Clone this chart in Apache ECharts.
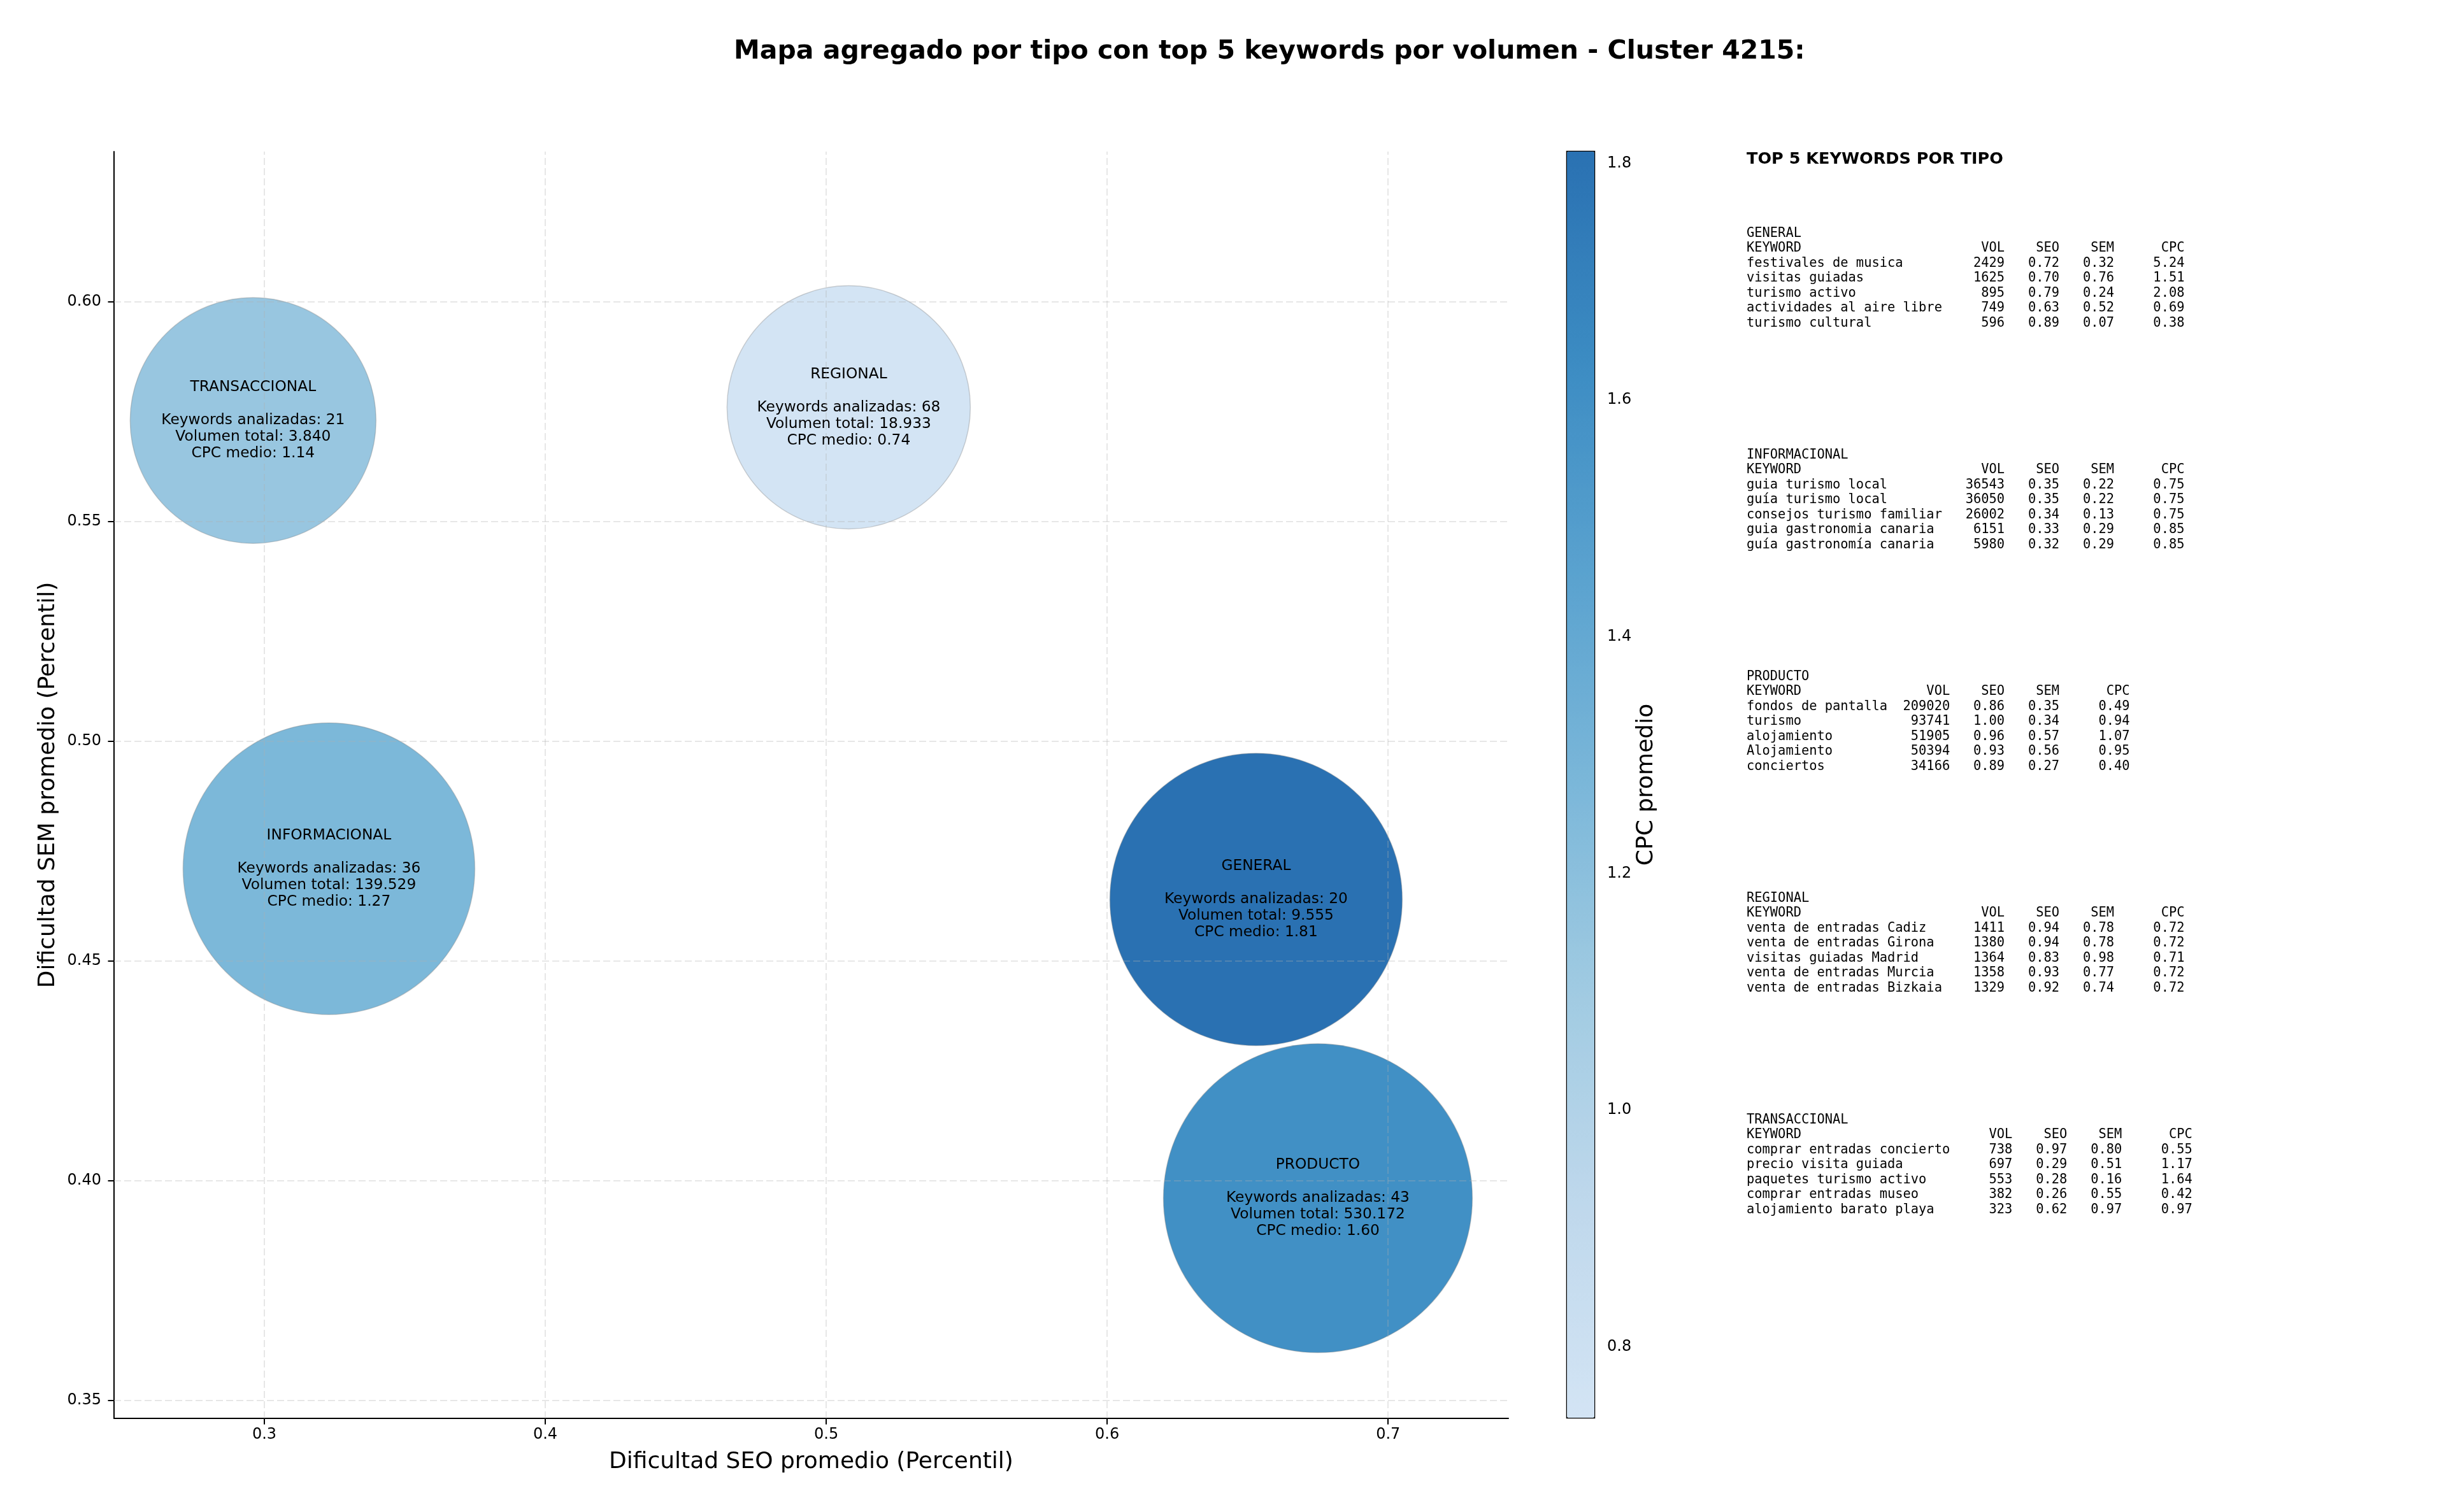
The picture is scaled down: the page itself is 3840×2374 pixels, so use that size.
<!DOCTYPE html>
<html>
<head>
<meta charset="utf-8">
<title>Mapa agregado por tipo - Cluster 4215</title>
<script src="https://cdn.jsdelivr.net/npm/echarts@6/dist/echarts.min.js"></script>
<style>
  html, body { margin: 0; padding: 0; background: #fff; }
  #chart { width: 3840px; height: 2374px; }
</style>
</head>
<body>
<div id="chart"></div>
<script>
// aggregated values per search intent type
const types = ['GENERAL', 'INFORMACIONAL', 'PRODUCTO', 'REGIONAL', 'TRANSACCIONAL']
const seoAvg = [0.653, 0.323, 0.675, 0.508, 0.296]
const semAvg = [0.464, 0.471, 0.396, 0.576, 0.573]
const cpcAvg = [1.81, 1.27, 1.60, 0.74, 1.14]
const kwCount = [20, 36, 43, 68, 21]
const volTotal = [9555, 139529, 530172, 18933, 3840]

const xTicks = [0.3, 0.4, 0.5, 0.6, 0.7]
const yTicks = [0.35, 0.40, 0.45, 0.50, 0.55, 0.60]
const cpcTicks = [0.8, 1.0, 1.2, 1.4, 1.6, 1.8]

// top 5 keywords per type: [keyword, vol, seo, sem, cpc]
const topGeneral = [
    ['festivales de musica', 2429, 0.72, 0.32, 5.24],
    ['visitas guiadas', 1625, 0.70, 0.76, 1.51],
    ['turismo activo', 895, 0.79, 0.24, 2.08],
    ['actividades al aire libre', 749, 0.63, 0.52, 0.69],
    ['turismo cultural', 596, 0.89, 0.07, 0.38]
]
const topInformacional = [
    ['guia turismo local', 36543, 0.35, 0.22, 0.75],
    ['guía turismo local', 36050, 0.35, 0.22, 0.75],
    ['consejos turismo familiar', 26002, 0.34, 0.13, 0.75],
    ['guia gastronomia canaria', 6151, 0.33, 0.29, 0.85],
    ['guía gastronomía canaria', 5980, 0.32, 0.29, 0.85]
]
const topProducto = [
    ['fondos de pantalla', 209020, 0.86, 0.35, 0.49],
    ['turismo', 93741, 1.00, 0.34, 0.94],
    ['alojamiento', 51905, 0.96, 0.57, 1.07],
    ['Alojamiento', 50394, 0.93, 0.56, 0.95],
    ['conciertos', 34166, 0.89, 0.27, 0.40]
]
const topRegional = [
    ['venta de entradas Cadiz', 1411, 0.94, 0.78, 0.72],
    ['venta de entradas Girona', 1380, 0.94, 0.78, 0.72],
    ['visitas guiadas Madrid', 1364, 0.83, 0.98, 0.71],
    ['venta de entradas Murcia', 1358, 0.93, 0.77, 0.72],
    ['venta de entradas Bizkaia', 1329, 0.92, 0.74, 0.72]
]
const topTransaccional = [
    ['comprar entradas concierto', 738, 0.97, 0.80, 0.55],
    ['precio visita guiada', 697, 0.29, 0.51, 1.17],
    ['paquetes turismo activo', 553, 0.28, 0.16, 1.64],
    ['comprar entradas museo', 382, 0.26, 0.55, 0.42],
    ['alojamiento barato playa', 323, 0.62, 0.97, 0.97]
]
const topTables = [topGeneral, topInformacional, topProducto, topRegional, topTransaccional]

// layout / style
const bubblePx = [459, 458, 485, 382, 386]
const xMin = 0.2465, xMax = 0.7428
const yMin = 0.3459, yMax = 0.6342
const cpcMin = Math.min(...cpcAvg)
const cpcMax = Math.max(...cpcAvg)
const FONT = '"DejaVu Sans", sans-serif'
const MONO = '"DejaVu Sans Mono", monospace'
const blues = ['#d3e4f4', '#bfd8ec', '#a1cbe2', '#7bb7d9', '#5aa2cf', '#3c8cc3', '#2a71b2']

function fmtVol(n) {
    return String(n).replace(/\B(?=(\d{3})+(?!\d))/g, '.')
}

function tableText(name, rows) {
    const w = Math.max(...rows.map(r => r[0].length))
    const line = (k, v, s, m, c) => k.padEnd(w) + v.padStart(8) + s.padStart(7) + m.padStart(7) + c.padStart(9)
    return [name, line('KEYWORD', 'VOL', 'SEO', 'SEM', 'CPC')]
        .concat(rows.map(r => line(r[0], String(r[1]), r[2].toFixed(2), r[3].toFixed(2), r[4].toFixed(2))))
        .join('\n')
}

const tickLabel = { fontSize: 24, fontFamily: FONT, color: '#000' }
const blackLine = { color: '#000', width: 2 }

const panel = [{
    type: 'text', x: 2742, y: 250,
    style: { text: 'TOP 5 KEYWORDS POR TIPO', fontSize: 25.5, fontWeight: 'bold', fontFamily: FONT, fill: '#000', verticalAlign: 'middle' }
}]
types.forEach((t, i) => {
    panel.push({
        type: 'text', x: 2742, y: 366.7 + 348 * i - 11.75,
        style: { text: tableText(t, topTables[i]), fontSize: 20.4, fontFamily: MONO, lineHeight: 23.5, fill: '#000', verticalAlign: 'top' }
    })
})

const chart = echarts.init(document.getElementById('chart'))
const option = {
    animation: false,
    backgroundColor: '#fff',
    title: {
        text: 'Mapa agregado por tipo con top 5 keywords por volumen - Cluster 4215:',
        left: 1152, top: 57, padding: 0,
        textStyle: { fontSize: 41, fontWeight: 'bold', fontFamily: FONT, color: '#000', lineHeight: 48 }
    },
    grid: [
        { left: 179, top: 238, width: 2189, height: 1989 },
        { left: 2460, top: 238, width: 43, height: 1988, show: true, borderColor: '#000', borderWidth: 2.5, backgroundColor: 'transparent' }
    ],
    visualMap: {
        type: 'continuous', seriesIndex: 0, dimension: 2,
        min: cpcMin, max: cpcMax, calculable: false, hoverLink: false,
        orient: 'vertical', left: 2460, top: 238, padding: 0,
        itemWidth: 43, itemHeight: 1988,
        inRange: { color: blues }
    },
    xAxis: [{
        gridIndex: 0, type: 'value', min: xMin, max: xMax,
        name: 'Dificultad SEO promedio (Percentil)', nameLocation: 'middle', nameGap: 51,
        nameTextStyle: { fontSize: 36, fontFamily: FONT, color: '#000' },
        axisLine: { show: true, onZero: false, lineStyle: blackLine },
        axisTick: { show: true, length: 9.5, lineStyle: blackLine, customValues: xTicks },
        axisLabel: Object.assign({ customValues: xTicks, margin: 14, formatter: v => v.toFixed(1) }, tickLabel),
        splitLine: { show: false }
    }, {
        gridIndex: 1, type: 'value', show: false
    }],
    yAxis: [{
        gridIndex: 0, type: 'value', min: yMin, max: yMax,
        name: 'Dificultad SEM promedio (Percentil)', nameLocation: 'middle', nameGap: 85,
        nameTextStyle: { fontSize: 36, fontFamily: FONT, color: '#000' },
        axisLine: { show: true, onZero: false, lineStyle: blackLine },
        axisTick: { show: true, length: 9.5, lineStyle: blackLine, customValues: yTicks },
        axisLabel: Object.assign({ customValues: yTicks, margin: 20, formatter: v => v.toFixed(2) }, tickLabel),
        splitLine: { show: false }
    }, {
        gridIndex: 1, type: 'value', position: 'right', min: cpcMin, max: cpcMax,
        name: 'CPC promedio', nameLocation: 'middle', nameGap: 64,
        nameTextStyle: { fontSize: 36, fontFamily: FONT, color: '#000' },
        axisLine: { show: false },
        axisTick: { show: true, length: 9.5, lineStyle: blackLine, customValues: cpcTicks },
        axisLabel: Object.assign({ customValues: cpcTicks, margin: 20, formatter: v => v.toFixed(1) }, tickLabel),
        splitLine: { show: false }
    }],
    series: [{
        type: 'scatter', xAxisIndex: 0, yAxisIndex: 0, z: 2,
        symbol: 'circle',
        data: types.map((t, i) => ({ name: t, value: [seoAvg[i], semAvg[i], cpcAvg[i]] })),
        symbolSize: (v, p) => bubblePx[p.dataIndex],
        itemStyle: { opacity: 1, borderColor: 'rgba(128,128,128,0.35)', borderWidth: 1.5 },
        label: {
            show: true, position: 'inside', color: '#000',
            fontSize: 23.3, fontFamily: FONT, lineHeight: 26, align: 'center',
            formatter: p => {
                const i = p.dataIndex
                return types[i] + '\n\nKeywords analizadas: ' + kwCount[i] +
                    '\nVolumen total: ' + fmtVol(volTotal[i]) +
                    '\nCPC medio: ' + cpcAvg[i].toFixed(2)
            }
        },
        emphasis: { disabled: true },
        markLine: {
            silent: true, symbol: ['none', 'none'], animation: false,
            label: { show: false },
            lineStyle: { color: 'rgba(176,176,176,0.3)', width: 2, type: [11, 5] },
            data: xTicks.map(v => ({ xAxis: v })).concat(yTicks.map(v => ({ yAxis: v })))
        }
    }],
    graphic: panel
}
chart.setOption(option)
</script>
</body>
</html>
